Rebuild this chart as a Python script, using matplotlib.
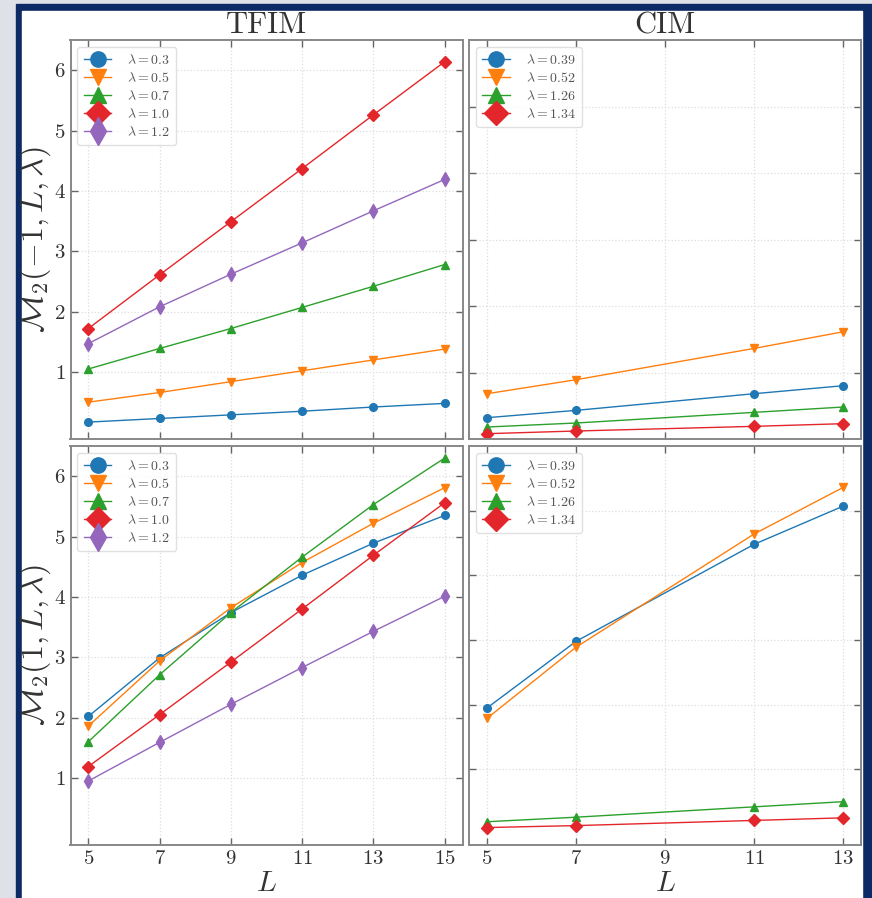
import numpy as np
import matplotlib.pyplot as plt
from matplotlib.patches import Rectangle

plt.rcParams['font.family'] = 'serif'
plt.rcParams['font.serif'] = ['cmr10', 'DejaVu Serif']
plt.rcParams['mathtext.fontset'] = 'cm'
plt.rcParams['axes.unicode_minus'] = False
plt.rcParams['axes.formatter.use_mathtext'] = True

# system sizes
L_tfim = [5, 7, 9, 11, 13, 15]
L_cim = [5, 7, 11, 13]

lam_tfim = ['0.3', '0.5', '0.7', '1.0', '1.2']
lam_cim = ['0.39', '0.52', '1.26', '1.34']

# TFIM, M2(-1, L, lambda), one row per lambda
tfim_m1 = [
    [0.17, 0.23, 0.29, 0.35, 0.42, 0.48],
    [0.50, 0.66, 0.84, 1.02, 1.20, 1.38],
    [1.05, 1.39, 1.72, 2.07, 2.42, 2.78],
    [1.72, 2.61, 3.49, 4.37, 5.26, 6.14],
    [1.47, 2.08, 2.62, 3.14, 3.67, 4.19],
]
# TFIM, M2(1, L, lambda)
tfim_p1 = [
    [2.02, 2.99, 3.74, 4.36, 4.89, 5.35],
    [1.86, 2.94, 3.82, 4.57, 5.22, 5.81],
    [1.60, 2.71, 3.74, 4.66, 5.53, 6.30],
    [1.19, 2.05, 2.92, 3.80, 4.69, 5.56],
    [0.95, 1.59, 2.22, 2.83, 3.43, 4.01],
]
# CIM, M2(-1, L, lambda)
cim_m1 = [
    [0.33, 0.44, 0.69, 0.81],
    [0.69, 0.90, 1.37, 1.62],
    [0.19, 0.25, 0.41, 0.49],
    [0.09, 0.13, 0.20, 0.24],
]
# CIM, M2(1, L, lambda)
cim_p1 = [
    [1.95, 2.98, 4.48, 5.07],
    [1.79, 2.89, 4.64, 5.36],
    [0.19, 0.26, 0.42, 0.50],
    [0.10, 0.13, 0.21, 0.25],
]

colors = ['#1f77b4', '#ff7f0e', '#2ca02c', '#e3262b', '#9467bd']
markers = ['o', 'v', '^', 'D', 'd']
msizes = [5.5, 6, 6, 6, 7]
txt = '#333333'

W, H = 872, 898
fig = plt.figure(figsize=(W / 100, H / 100), dpi=100, facecolor='#dfe1e8')

# slide frame around the figure
fig.add_artist(Rectangle((16 / W, -0.1), 1.0, 1 - 4 / H + 0.1,
                         transform=fig.transFigure, color='#0c2a66', zorder=-3))
fig.add_artist(Rectangle((22 / W, -0.1), (862 - 22) / W, 1 - 11 / H + 0.1,
                         transform=fig.transFigure, color='white', zorder=-2))


def px_axes(x0, y0, x1, y1):
    return fig.add_axes([x0 / W, 1 - y1 / H, (x1 - x0) / W, (y1 - y0) / H])


ax_tl = px_axes(70.5, 40, 462.5, 439)
ax_tr = px_axes(469.3, 40, 861, 439)
ax_bl = px_axes(70.5, 446, 462.5, 845)
ax_br = px_axes(469.3, 446, 861, 845)


def draw(ax, L, series, labels):
    for i, y in enumerate(series):
        ax.plot(L, y, color=colors[i], marker=markers[i], ms=msizes[i],
                lw=1.0, label=r'$\lambda = %s$' % labels[i])
    leg = ax.legend(loc='upper left', fontsize=10, markerscale=2.0,
                    handlelength=2.0, labelspacing=0.28, borderpad=0.45,
                    handletextpad=1.1, framealpha=0.8, edgecolor='0.85')
    for t in leg.get_texts():
        t.set_color('#555555')
    ax.grid(True, color='#dddddd', linestyle=':', linewidth=0.9)
    ax.tick_params(direction='in', top=True, right=True, length=5,
                   width=1.0, color='#666666', labelsize=15, labelcolor=txt)
    for s in ax.spines.values():
        s.set_color('#888888')
        s.set_linewidth(1.4)


draw(ax_tl, L_tfim, tfim_m1, lam_tfim)
draw(ax_bl, L_tfim, tfim_p1, lam_tfim)
draw(ax_tr, L_cim, cim_m1, lam_cim)
draw(ax_br, L_cim, cim_p1, lam_cim)

for ax in (ax_tl, ax_bl):
    ax.set_xlim(4.5, 15.5)
    ax.set_xticks(L_tfim)
    ax.set_ylim(-0.11, 6.5)
    ax.set_yticks([1, 2, 3, 4, 5, 6])
for ax in (ax_tr, ax_br):
    ax.set_xlim(4.6, 13.4)
    ax.set_xticks([5, 7, 9, 11, 13])
    ax.set_yticks([1, 2, 3, 4, 5])
    ax.tick_params(labelleft=False)
ax_tr.set_ylim(0.01, 6.0)
ax_br.set_ylim(-0.17, 6.0)
for ax in (ax_tl, ax_tr):
    ax.tick_params(labelbottom=False)

ax_tl.set_title('TFIM', fontsize=22, color=txt, pad=5)
ax_tr.set_title('CIM', fontsize=22, color=txt, pad=5)
ax_tl.set_ylabel(r'$\mathcal{M}_2(-1, L, \lambda)$', fontsize=23, color=txt)
ax_bl.set_ylabel(r'$\mathcal{M}_2(1, L, \lambda)$', fontsize=23, color=txt)
ax_bl.set_xlabel(r'$L$', fontsize=21, color=txt, labelpad=2)
ax_br.set_xlabel(r'$L$', fontsize=21, color=txt, labelpad=2)
for ax in (ax_tl, ax_bl):
    ax.yaxis.set_label_coords(-0.045, 0.5)

fig.savefig('out.png', dpi=100, facecolor=fig.get_facecolor())
